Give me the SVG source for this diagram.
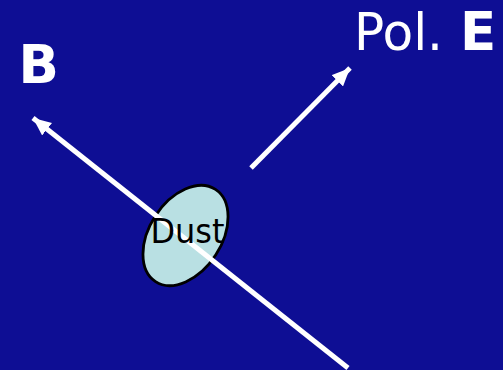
<svg xmlns="http://www.w3.org/2000/svg" width="503" height="370" viewBox="0 0 503 370">
<style>
.arrow{stroke:#ffffff;stroke-width:5;fill:none}
.lbl{fill:#ffffff;font-family:"DejaVu Sans",Verdana,sans-serif}
</style>
<defs>
<marker id="ah" markerUnits="userSpaceOnUse" markerWidth="20" markerHeight="16" refX="18" refY="8" orient="auto">
<path d="M0,0 L18,8 L0,16 z" fill="#ffffff"/>
</marker>
</defs>
<rect width="503" height="370" fill="#0e0e94"/>
<g id="dust">
<ellipse cx="185.5" cy="235.5" rx="55" ry="36" transform="rotate(-57 185.5 235.5)" fill="#b9e0e3" stroke="#000" stroke-width="2.8"/>
</g>
<g id="connectors">
<line class="arrow" x1="348" y1="368" x2="33" y2="118" marker-end="url(#ah)"/>
<line class="arrow" x1="251" y1="168" x2="350" y2="68" marker-end="url(#ah)"/>
</g>
<g id="dust-label">
<text x="187.5" y="243.3" text-anchor="middle" font-family="'DejaVu Sans',Verdana,sans-serif" font-size="33" textLength="74" lengthAdjust="spacingAndGlyphs" fill="#000">Dust</text>
</g>
<g id="label-b">
<text class="lbl" x="18.5" y="82.7" font-size="53" font-weight="bold">B</text>
</g>
<g id="label-e">
<text class="lbl" x="354" y="50" font-size="52" textLength="89" lengthAdjust="spacingAndGlyphs">Pol.</text>
<text class="lbl" x="460" y="50" font-size="53" font-weight="bold">E</text>
</g>
</svg>
